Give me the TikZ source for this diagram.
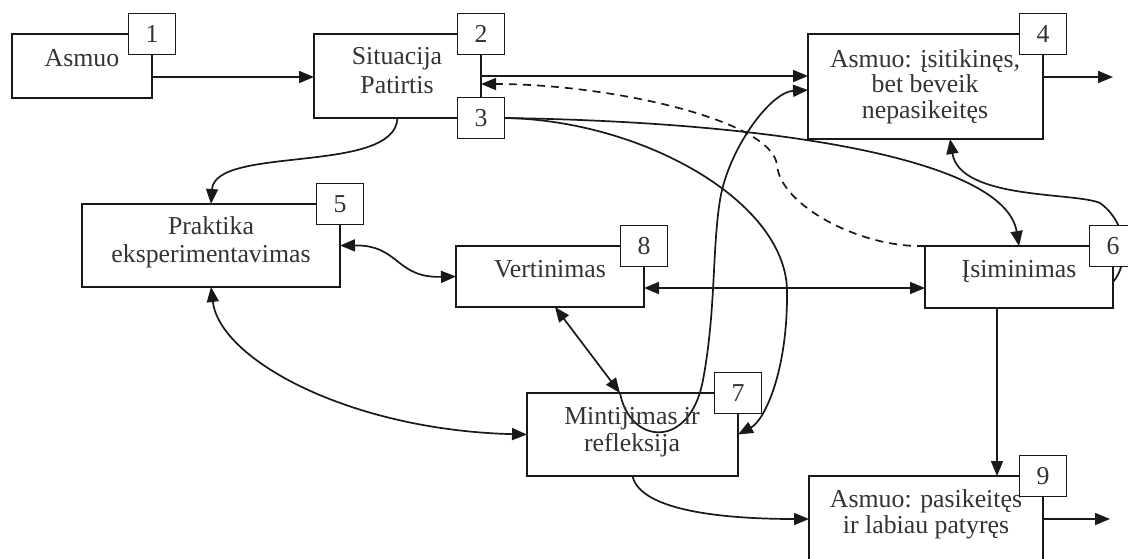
\documentclass[tikz,border=0pt]{standalone}
\usepackage{fontspec}
\setmainfont{Liberation Serif}
\usetikzlibrary{arrows.meta,backgrounds}
\begin{document}
\begin{tikzpicture}[x=0.5pt,y=-0.5pt,
  >={Triangle[length=7.5pt,width=6pt]},
  frame/.style={draw=black!90,line width=0.9pt,inner sep=0pt,outer sep=0pt},
  stage/.style={frame,minimum width=#1},
  numbox/.style={frame,fill=white,minimum width=23.5pt,minimum height=20.5pt,
    font=\fontsize{12.9}{15}\selectfont,text=black!80},
  txt/.style={anchor=base,inner sep=0pt,font=\fontsize{12.9}{15}\selectfont,text=black!80},
  link/.style={draw=black!90,line width=0.85pt}
]
\useasboundingbox (0,0) rectangle (1128,558);

% stage boxes
\node[stage=70pt,minimum height=32pt]     (b1) at (82,66)      {};
\node[stage=83.5pt,minimum height=42pt]   (b2) at (397.5,76)   {};
\node[stage=117.5pt,minimum height=52.5pt](b4) at (925.5,86.5) {};
\node[stage=129pt,minimum height=41.5pt]  (b5) at (211,245.5)  {};
\node[stage=94pt,minimum height=30.5pt]   (b8) at (550,276.5)  {};
\node[stage=94pt,minimum height=31pt]     (b6) at (1019,277)   {};
\node[stage=105.5pt,minimum height=41.5pt](b7) at (632.5,434.5){};
\node[stage=117pt,minimum height=48pt]    (b9) at (926,524)    {};

% texts
\node[txt] (t1)  at (82,66)   {Asmuo};
\node[txt] (t2a) at (397,64)  {Situacija};
\node[txt] (t2b) at (397,93)  {Patirtis};
\node[txt] (t4a) at (925,67)  {Asmuo: įsitikinęs,};
\node[txt] (t4b) at (925,92)  {bet beveik};
\node[txt] (t4c) at (925,118) {nepasikeitęs};
\node[txt] (t5a) at (211,234) {Praktika};
\node[txt] (t5b) at (211,262) {eksperimentavimas};
\node[txt] (t8)  at (550,277) {Vertinimas};
\node[txt] (t6)  at (1019,277){Įsiminimas};
\node[txt] (t7a) at (632,424) {Mintijimas ir};
\node[txt] (t7b) at (632,451) {refleksija};
\node[txt] (t9a) at (926,507) {Asmuo: pasikeitęs};
\node[txt] (t9b) at (926,533) {ir labiau patyręs};

% number tags on the corners
\node[numbox] (n1) at (b1.north east) {1};
\node[numbox] (n2) at (b2.north east) {2};
\node[numbox] (n3) at (b2.south east) {3};
\node[numbox] (n4) at (b4.north east) {4};
\node[numbox] (n5) at (b5.north east) {5};
\node[numbox] (n8) at (b8.north east) {8};
\node[numbox] (n6) at (b6.north east) {6};
\node[numbox] (n7) at (b7.north east) {7};
\node[numbox] (n9) at (b9.north east) {9};

% attachment points
\path ([yshift=-5.5pt]b1.east)  coordinate (p1r)
      ([yshift=4.75pt]b4.east)  coordinate (p4r)
      ([yshift=-1.75pt]b4.west) coordinate (p4l)
      ([xshift=12.25pt]b4.south) coordinate (p4b)
      ([yshift=-4pt]b2.east)    coordinate (p2r)
      ([yshift=-5.75pt]b8.east) coordinate (p8r)
      ([xshift=2.5pt]b8.south)  coordinate (p8b)
      ([xshift=-6.25pt]b7.north) coordinate (p7t)
      ([xshift=-11pt]b6.south)  coordinate (p6b)
      ([yshift=-2.5pt]b6.east)  coordinate (p6r)
      ([yshift=2.5pt]b9.west)   coordinate (p9l)
      ([yshift=2.5pt]b9.east)   coordinate (p9r);
\coordinate (o4) at (1113,77);
\coordinate (o9) at (1110,519);

\begin{scope}[on background layer]
  \fill[white] (0,0) rectangle (1128,558);
  \draw[link,->] (p1r) -- (p1r -| b2.west);
  \draw[link,->] (b2.east) -- (b2.east -| b4.west);
  \draw[link,->] (p4r) -- (o4);
  \draw[link,->] (p9r) -- (o9);
  \draw[link,->] (n3.east) .. controls (780,122) and (1005,160) .. (b6.north);
  \draw[link,->] (n3.east) .. controls (640,120) and (785,200) .. (787,290)
                           .. controls (788,370) and (765,420) .. (b7.east);
  \draw[link,->] (b2.south) .. controls (395,175) and (215,145) .. (b5.north);
  \draw[link,<->] (b5.east) .. controls (400,245) and (395,278) .. (b8.west);
  \draw[link,<->] (b5.south) .. controls (220,360) and (350,430) .. (b7.west);
  \draw[link,<->] (p8r) -- (p8r -| b6.west);
  \draw[link,<->] (p8b) -- (p7t);
  \draw[link,->] (p7t) .. controls (630,445) and (690,450) .. (703,380)
                       .. controls (716,310) and (712,250) .. (720,200)
                       .. controls (728,150) and (770,92) .. (p4l);
  \draw[link,->] (p6b) -- (p6b |- b9.north);
  \draw[link,->] (b7.south) .. controls (640,510) and (720,519) .. (p9l);
  \draw[link,->] (p6r) .. controls (1128,265) and (1130,225) .. (1100,203)
                       .. controls (1075,192) and (960,200) .. (p4b);
  \draw[link,dash pattern=on 4pt off 3pt,->] (b6.north west)
        .. controls (860,248) and (780,205) .. (777,165)
        .. controls (772,120) and (610,84) .. (p2r);
\end{scope}
\end{tikzpicture}
\end{document}
